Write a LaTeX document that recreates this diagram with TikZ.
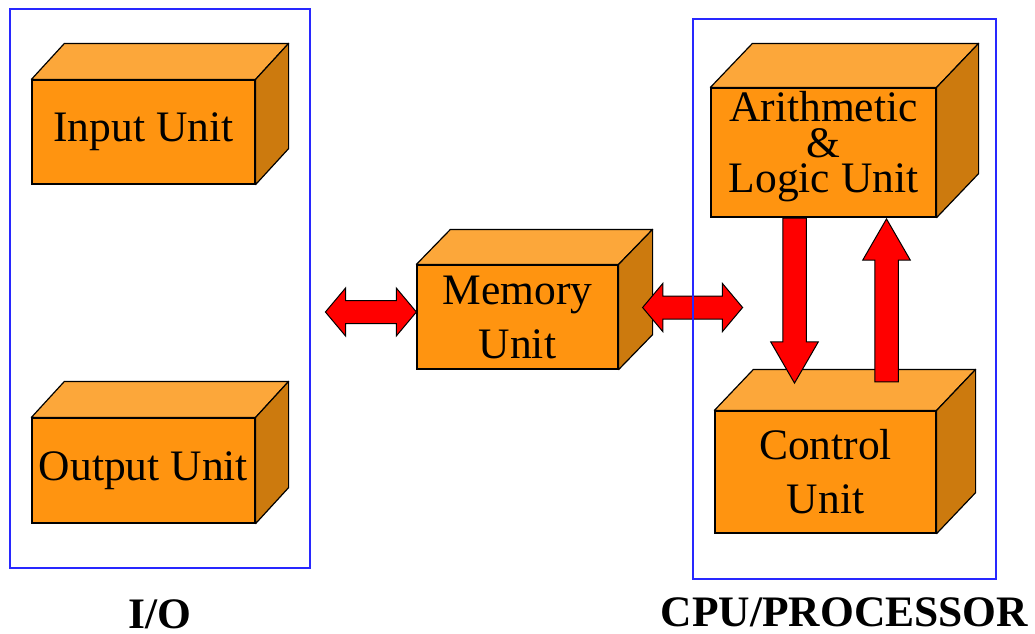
\documentclass[tikz,border=0pt]{standalone}
\usepackage{fontspec}
\setmainfont{Liberation Serif}
\usepackage{tikz}
\usetikzlibrary{shapes.arrows}
\definecolor{unitfront}{RGB}{255,148,16}
\definecolor{unittop}{RGB}{252,167,58}
\definecolor{unitside}{RGB}{204,122,14}
\definecolor{frameblue}{RGB}{40,40,255}
\tikzset{unit/.style={draw=black, line width=1.2pt, fill=unitfront, inner sep=0pt, align=center, font=\fontsize{43.5pt}{54pt}\selectfont}}
\tikzset{face/.style={draw=black, line width=1.2pt, line join=round}}
\tikzset{frame/.style={draw=frameblue, line width=1.3pt, inner sep=0pt}}
\tikzset{heading/.style={anchor=base, font=\fontsize{43.5pt}{46pt}\selectfont\bfseries}}
\tikzset{fatarrow/.style={single arrow, draw=black, line width=1pt, fill=red, inner xsep=0pt, inner ysep=11.25pt, single arrow tip angle=60, single arrow head extend=12pt, anchor=tail}}
\tikzset{dblarrow/.style={double arrow, draw=black, line width=1pt, fill=red, inner xsep=0pt, inner ysep=11pt, double arrow tip angle=100, double arrow head extend=12.5pt}}

\begin{document}
\begin{tikzpicture}[x=1pt, y=-1pt]
    \useasboundingbox (0,0) rectangle (1035,633);

    \node[frame, minimum width=300pt, minimum height=559pt] at (160,288.5) (io){};
    \node[unit, minimum width=223pt, minimum height=104pt] at (143.5,132) (inp){Input Unit};
    \node[unit, minimum width=223pt, minimum height=105pt] at (143.5,470.5) (outp){Output Unit};
    \node[heading] at ([yshift = -60pt]io.south) (iolab){I/O};

    \node[unit, minimum width=201pt, minimum height=104pt] at (517.5,317) (mem){Memory\\Unit};

    \node[unit, minimum width=225pt, minimum height=129pt, font=\fontsize{43.5pt}{35.5pt}\selectfont] at (823.5,152.5) (alu){Arithmetic\\\&\\Logic Unit\rule[-21pt]{0pt}{21pt}};
    \node[unit, minimum width=221pt, minimum height=122pt] at (825.5,472) (cu){Control\\Unit};

    \foreach \unitname/\dx/\dy in {inp/33/36, outp/33/36, mem/34/35, alu/42/44, cu/39/41}{
        \draw[face, fill=unittop] (\unitname.north west) -- ++(\dx,-\dy) -- ([shift={(\dx,-\dy)}]\unitname.north east) -- (\unitname.north east) -- cycle;
        \draw[face, fill=unitside] (\unitname.north east) -- ++(\dx,-\dy) -- ([shift={(\dx,-\dy)}]\unitname.south east) -- (\unitname.south east) -- cycle;
    }

    \node[dblarrow, minimum height=91pt] at ([shift={(-45.5,-5)}]mem.west) (iomem){};
    \node[dblarrow, minimum height=100pt] at ([shift={(74,-9.5)}]mem.east) (memcpu){};
    \node[fatarrow, rotate=-90, minimum height=165pt] at ([xshift = -29pt]alu.south) (alucu){};
    \node[fatarrow, rotate=90, minimum height=163pt] at ([shift={(61,-28)}]cu.north) (cualu){};

    \node[frame, minimum width=303pt, minimum height=560pt] at (844.5,299) (cpu){};
    \node[heading] at ([yshift = -47pt]cpu.south) (cpulab){CPU/PROCESSOR};
\end{tikzpicture}
\end{document}
